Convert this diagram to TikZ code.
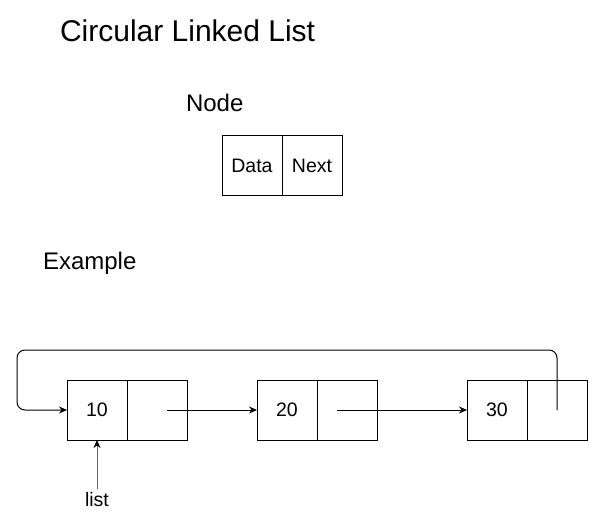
\documentclass[tikz,border=0pt]{standalone}
\usepackage{fontspec}
\setmainfont{Liberation Sans}
\usetikzlibrary{positioning,arrows.meta}

\tikzset{
  cell/.style = {draw, line width = 1pt, minimum width = 60pt, minimum height = 60pt, inner sep = 0pt, outer sep = 0pt, font = \fontsize{19.5}{22}\selectfont},
  link/.style = {draw, line width = 1pt, -{Stealth[length = 8pt, width = 7pt]}}
}

\begin{document}
\begin{tikzpicture}[x = 1pt, y = -1pt]
      \useasboundingbox (0, 0) rectangle (598, 522);
      \node [anchor = west, font = \fontsize{30}{34}\selectfont] (title) at (56.5, 30.5) {Circular Linked List};
      \node [anchor = west, font = \fontsize{24}{28}\selectfont] (nodehead) at (182.5, 103) {Node};
      \node [anchor = west, font = \fontsize{24}{28}\selectfont] (examplehead) at (39.5, 263) {Example};
      % node layout
      \node [cell] (data) at (252, 165.5) {Data};
      \node [cell, right = 0pt of data] (next) {Next};
      % example list
      \node [cell] (d1) at (97, 410) {10};
      \node [cell, right = 0pt of d1] (n1) {};
      \node [cell] (d2) at (287, 410) {20};
      \node [cell, right = 0pt of d2] (n2) {};
      \node [cell] (d3) at (497, 410) {30};
      \node [cell, right = 0pt of d3] (n3) {};
      \draw [link] ([xshift = 10pt]n1.center) -- (d2.west);
      \draw [link] ([xshift = -10pt]n2.center) -- (d3.west);
      \coordinate (loop) at (17, 350);
      \draw [link, rounded corners = 8pt] (n3.center) -- (n3.center |- loop) -- (loop) -- (loop |- d1.west) -- (d1.west);
      \node [font = \fontsize{19.5}{22}\selectfont] (lst) at (97, 500) {list};
      \draw [link, draw = black!60, -{Stealth[length = 8pt, width = 7pt, black]}] (lst.north) -- (d1.south);
    \end{tikzpicture}
\end{document}
